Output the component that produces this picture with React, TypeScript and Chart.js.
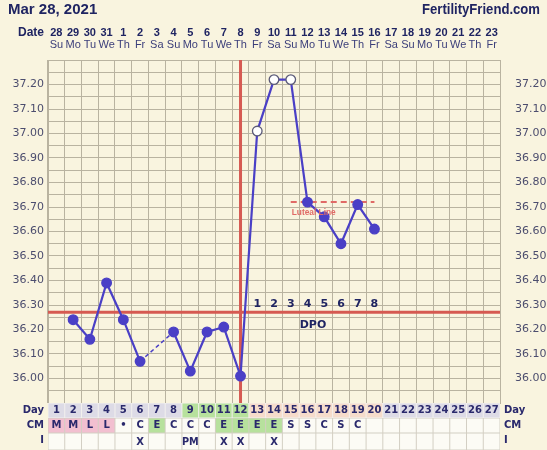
import { useEffect, useRef } from "react";
import { Chart, registerables } from "chart.js";

Chart.register(...registerables);

// Calendar dates across the top (cycle starts Sun Mar 28, 2021)
const chartDates = ["28", "29", "30", "31", "1", "2", "3", "4", "5", "6", "7", "8", "9", "10", "11", "12", "13", "14", "15", "16", "17", "18", "19", "20", "21", "22", "23"];
const weekdayNames = ["Su", "Mo", "Tu", "We", "Th", "Fr", "Sa", "Su", "Mo", "Tu", "We", "Th", "Fr", "Sa", "Su", "Mo", "Tu", "We", "Th", "Fr", "Sa", "Su", "Mo", "Tu", "We", "Th", "Fr"];
const cycleDays = ["1", "2", "3", "4", "5", "6", "7", "8", "9", "10", "11", "12", "13", "14", "15", "16", "17", "18", "19", "20", "21", "22", "23", "24", "25", "26", "27"];

// Basal body temperatures (°C) per cycle day; null = not recorded
const temperatures = [null, 36.24, 36.16, 36.39, 36.24, 36.07, null, 36.19, 36.03, 36.19, 36.21, 36.01, 37.01, 37.22, 37.22, 36.72, 36.66, 36.55, 36.71, 36.61, null, null, null, null, null, null, null];
// Temperatures flagged as discarded (open circles)
const openCircleDays = [13, 14, 15];

const coverlineTemp = 36.27;
const ovulationDay = 12;
const lutealLineTemp = 36.72;
const lutealLineDays = [15, 16, 17, 18, 19, 20];
const dpoLabels = ["1", "2", "3", "4", "5", "6", "7", "8"];
const firstDpoDay = 13;
const fertileDays = [9, 10, 11, 12];

const cervicalMucus = ["M", "M", "L", "L", "•", "C", "E", "C", "C", "C", "E", "E", "E", "E", "S", "S", "C", "S", "C", "", "", "", "", "", "", "", ""];
const intercourse = ["", "", "", "", "", "X", "", "", "PM", "", "X", "X", "", "X", "", "", "", "", "", "", "", "", "", "", "", "", ""];

const tempAxisLabels = [36.0, 36.1, 36.2, 36.3, 36.4, 36.5, 36.6, 36.7, 36.8, 36.9, 37.0, 37.1, 37.2];

const BG = "#f9f4df";
const GRID = "#b9b3a0";
const NAVY = "#1f2462";
const BLUE = "#4a3fc6";
const RED = "#d65a52";

const lutealSeries = cycleDays.map((d) => (lutealLineDays.includes(Number(d)) ? lutealLineTemp : null));

const chartDecor = {
  id: "chartDecor",
  beforeDraw(chart: any) {
    const { ctx, width, height } = chart;
    ctx.save();
    ctx.fillStyle = BG;
    ctx.fillRect(0, 0, width, height);
    ctx.restore();
  },
  beforeDatasetsDraw(chart: any) {
    const { ctx, chartArea, scales } = chart;
    const x = scales.x;
    const y = scales.y;
    ctx.save();
    ctx.strokeStyle = RED;
    ctx.lineWidth = 3;
    // coverline
    const cy = y.getPixelForValue(coverlineTemp);
    ctx.beginPath();
    ctx.moveTo(chartArea.left, cy);
    ctx.lineTo(chartArea.right, cy);
    ctx.stroke();
    // ovulation line
    const ox = x.getPixelForValue(ovulationDay - 1);
    ctx.beginPath();
    ctx.moveTo(ox, chartArea.top);
    ctx.lineTo(ox, chartArea.bottom);
    ctx.stroke();
    ctx.restore();
  },
  afterDraw(chart: any) {
    const { ctx, chartArea, scales } = chart;
    const x = scales.x;
    const y = scales.y;
    const colW = x.width / cycleDays.length;
    const colX = (i: number) => x.getPixelForValue(i);
    ctx.save();

    // Header
    ctx.fillStyle = NAVY;
    ctx.textBaseline = "alphabetic";
    ctx.textAlign = "left";
    ctx.font = "bold 15px 'Liberation Sans', sans-serif";
    ctx.fillText("Mar 28, 2021", 8, 14);
    ctx.textAlign = "right";
    ctx.font = "bold 14px 'Liberation Sans', sans-serif";
    ctx.fillText("FertilityFriend.com", 540, 14, 118);

    // Date row
    ctx.font = "bold 12px 'Liberation Sans', sans-serif";
    ctx.textAlign = "right";
    ctx.fillText("Date", 44, 36);
    ctx.font = "bold 11px 'Liberation Sans', sans-serif";
    ctx.textAlign = "center";
    chartDates.forEach((d, i) => ctx.fillText(d, colX(i), 36));
    ctx.fillStyle = "#3b3e7a";
    ctx.font = "11px 'Liberation Sans', sans-serif";
    weekdayNames.forEach((d, i) => ctx.fillText(d, colX(i), 48, colW + 0.5));

    // Temperature labels on both sides
    ctx.fillStyle = "#4c4d6e";
    ctx.font = "11px 'DejaVu Sans', sans-serif";
    ctx.textBaseline = "middle";
    tempAxisLabels.forEach((v) => {
      const py = y.getPixelForValue(v);
      ctx.textAlign = "right";
      ctx.fillText(v.toFixed(2), 44, py);
      ctx.textAlign = "left";
      ctx.fillText(v.toFixed(2), 515, py);
    });

    // Luteal line caption
    ctx.fillStyle = "#e06a66";
    ctx.font = "bold 9.5px 'Liberation Sans', sans-serif";
    ctx.textAlign = "left";
    ctx.fillText("Luteal Line", x.getPixelForValue(lutealLineDays[0] - 1) + 1, y.getPixelForValue(lutealLineTemp) + 10, 44);

    // Days past ovulation
    ctx.fillStyle = NAVY;
    ctx.font = "bold 11px 'DejaVu Sans', sans-serif";
    ctx.textAlign = "center";
    const dpoY = y.getPixelForValue(coverlineTemp) - 8;
    dpoLabels.forEach((d, i) => ctx.fillText(d, colX(firstDpoDay - 1 + i), dpoY));
    ctx.fillText("DPO", 313, y.getPixelForValue(coverlineTemp) + 13);

    // Bottom table
    const top = chartArea.bottom;
    const rowH = 15;
    const rows = [
      { label: "Day", top: top, h: rowH },
      { label: "CM", top: top + rowH, h: rowH },
      { label: "I", top: top + rowH * 2, h: 450 - (top + rowH * 2) },
    ];

    rows.forEach((row, r) => {
      ctx.fillStyle = r === 0 ? "#f3f1ee" : "#d3cfc3";
      ctx.fillRect(chartArea.left, row.top, chartArea.right - chartArea.left, row.h);
      cycleDays.forEach((d, i) => {
        const day = Number(d);
        let fill = "#fcfbf5";
        if (r === 0) {
          if (fertileDays.includes(day)) fill = "#b7e19d";
          else if (day >= firstDpoDay && day < firstDpoDay + dpoLabels.length) fill = "#f6dccb";
          else fill = "#dddbe6";
        } else if (r === 1) {
          const cm = cervicalMucus[i];
          if (cm === "M" || cm === "L") fill = "#f2bfd0";
          else if (cm === "E") fill = "#b7e19d";
        }
        const left = colX(i) - colW / 2;
        ctx.fillStyle = fill;
        ctx.fillRect(left + 0.5, row.top + 0.5, colW - 1, row.h - 1);
      });
    });

    ctx.fillStyle = "#2a296c";
    ctx.textBaseline = "middle";
    ctx.font = "bold 10px 'DejaVu Sans', sans-serif";
    rows.forEach((row) => {
      const cy = row.top + 7.5;
      ctx.textAlign = "right";
      ctx.fillText(row.label, 44, cy);
      ctx.textAlign = "left";
      ctx.fillText(row.label, 504, cy);
    });
    ctx.textAlign = "center";
    cycleDays.forEach((d, i) => {
      ctx.fillText(d, colX(i), rows[0].top + 7.5, colW);
      if (cervicalMucus[i]) ctx.fillText(cervicalMucus[i], colX(i), rows[1].top + 7.5);
      if (intercourse[i]) ctx.fillText(intercourse[i], colX(i), rows[2].top + 9, colW);
    });

    ctx.restore();
  },
};

// segments that bridge a missing reading are dashed and thinner
const bridged = (c: any, value: any) => (c.p0.skip || c.p1.skip ? value : undefined);

export default function App() {
  const canvasRef = useRef<HTMLCanvasElement | null>(null);

  useEffect(() => {
    document.body.style.margin = "0";
    document.body.style.background = BG;
    const canvas = canvasRef.current;
    if (!canvas) return;

    const pointFill = cycleDays.map((d) => (openCircleDays.includes(Number(d)) ? "#ffffff" : BLUE));
    const pointEdge = cycleDays.map((d) => (openCircleDays.includes(Number(d)) ? "#5b5a78" : BLUE));

    const chart = new Chart(canvas, {
      type: "line",
      data: {
        labels: chartDates,
        datasets: [
          {
            label: "Temperature",
            data: temperatures,
            borderColor: BLUE,
            borderWidth: 2.2,
            pointRadius: 4.8,
            pointBorderWidth: 1.3,
            pointBackgroundColor: pointFill,
            pointBorderColor: pointEdge,
            spanGaps: true,
            tension: 0,
            segment: {
              borderDash: (c: any) => bridged(c, [4, 3]),
              borderWidth: (c: any) => bridged(c, 1.5),
            },
          },
          {
            label: "Luteal Line",
            data: lutealSeries,
            borderColor: "#e06a66",
            borderWidth: 2,
            borderDash: [6, 4],
            pointRadius: 0,
            spanGaps: false,
          },
        ],
      },
      options: {
        responsive: false,
        animation: false,
        layout: { padding: { left: 48, right: 47, top: 60, bottom: 47 } },
        plugins: { legend: { display: false }, tooltip: { enabled: false } },
        scales: {
          x: {
            type: "category",
            offset: true,
            grid: { offset: true, color: GRID, lineWidth: 1, drawTicks: false },
            border: { color: GRID },
            ticks: { display: false },
          },
          y: {
            min: 35.9,
            max: 37.3,
            grid: { color: GRID, lineWidth: 1, drawTicks: false },
            border: { color: GRID },
            ticks: { display: false, stepSize: 0.05 },
          },
        },
      },
      plugins: [chartDecor],
    });

    return () => chart.destroy();
  }, []);

  return <canvas ref={canvasRef} width={547} height={450} style={{ display: "block" }} />;
}
